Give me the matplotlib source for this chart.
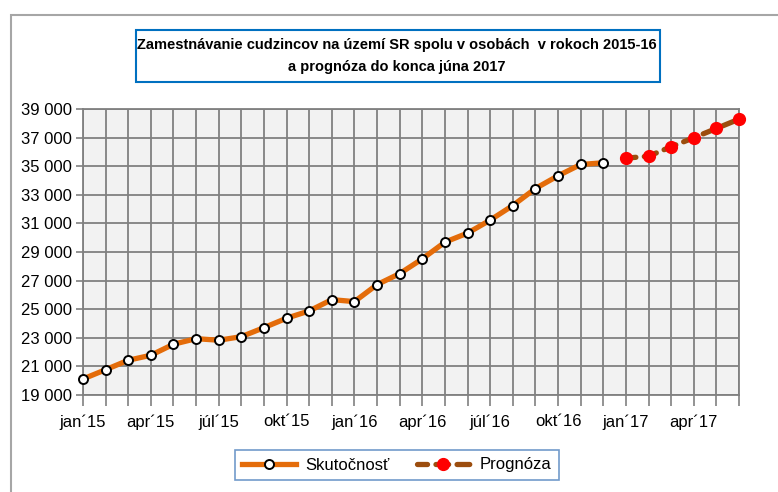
import matplotlib
matplotlib.use('Agg')
from matplotlib import pyplot as plt
from matplotlib.patches import Rectangle

# months jan'15 .. jun'17
months = ['jan´15', 'feb´15', 'mar´15', 'apr´15', 'máj´15', 'jún´15',
          'júl´15', 'aug´15', 'sep´15', 'okt´15', 'nov´15', 'dec´15',
          'jan´16', 'feb´16', 'mar´16', 'apr´16', 'máj´16', 'jún´16',
          'júl´16', 'aug´16', 'sep´16', 'okt´16', 'nov´16', 'dec´16',
          'jan´17', 'feb´17', 'mar´17', 'apr´17', 'máj´17', 'jún´17']

skutocnost = [20120, 20770, 21430, 21780, 22550, 22940,
              22830, 23080, 23710, 24370, 24880, 25670,
              25530, 26720, 27490, 28520, 29690, 30320,
              31230, 32250, 33440, 34330, 35120, 35240]

prognoza = [35560, 35700, 36360, 36990, 37640, 38290]

y_ticks = list(range(19000, 39001, 2000))
y_labels = ['{:,}'.format(v).replace(',', ' ') for v in y_ticks]

plt.rcParams['font.family'] = ['Liberation Sans', 'DejaVu Sans']

fig = plt.figure(figsize=(7.78, 4.92), dpi=100)
W, H = 778, 492

# outer chart frame
fig.patches.append(Rectangle((11 / W, -0.1), 1.0, 1 - 15 / H + 0.1, transform=fig.transFigure,
                             fill=False, edgecolor='#A6A6A6', linewidth=1.5))

ax = fig.add_axes([83 / W, (H - 395) / H, (739 - 83) / W, (395 - 109) / H])
ax.set_facecolor('#F2F2F2')

x_act = list(range(len(skutocnost)))
x_prog = list(range(len(skutocnost), len(skutocnost) + len(prognoza)))

ax.plot(x_act, skutocnost, color='#E46C0A', linewidth=3.8, marker='o', markersize=6.5,
        markerfacecolor='white', markeredgecolor='black', markeredgewidth=1.4,
        label='Skutočnosť', zorder=3, clip_on=False)
ax.plot(x_prog, prognoza, color='#9C4D0E', linewidth=3.8, linestyle=(0.5, (2.4, 1.6)),
        marker='o', markersize=8.5, markerfacecolor='#FF0000', markeredgecolor='#FF0000',
        label='Prognóza', zorder=3, clip_on=False, dash_capstyle='round')

ax.set_xlim(0, len(months) - 1)
ax.set_ylim(19000, 39000)
ax.set_xticks(range(len(months)))
ax.set_xticklabels([m if i % 3 == 0 else '' for i, m in enumerate(months)], fontsize=12)
ax.set_yticks(y_ticks)
ax.set_yticklabels(y_labels, fontsize=12)
ax.tick_params(axis='x', length=8, width=1.2, color='#808080', pad=6)
ax.tick_params(axis='y', length=5, width=1.2, color='#808080', pad=3)
ax.grid(True, color='#808080', linewidth=1.3)
ax.set_axisbelow(True)
for s in ax.spines.values():
    s.set_color('#808080')
    s.set_linewidth(1.3)

# title box
fig.patches.append(Rectangle((136 / W, 1 - 82 / H), (660 - 136) / W, (82 - 30) / H,
                             transform=fig.transFigure, facecolor='white',
                             edgecolor='#0070C0', linewidth=1.5))
fig.text((138 + 656) / 2 / W, 1 - 45 / H,
         'Zamestnávanie cudzincov na území SR spolu v osobách  v rokoch 2015-16',
         ha='center', va='center', fontsize=10.5, fontweight='bold')
fig.text((138 + 656) / 2 / W, 1 - 67 / H, 'a prognóza do konca júna 2017',
         ha='center', va='center', fontsize=10.5, fontweight='bold')

leg = fig.legend(loc='center', bbox_to_anchor=((233 + 561) / 2 / W, 1 - 465 / H), ncol=2,
                 fontsize=12, frameon=True, fancybox=False, handlelength=3.2,
                 columnspacing=1.6, borderpad=0.45, handletextpad=0.6)
leg.get_frame().set_edgecolor('#4F81BD')
leg.get_frame().set_linewidth(1.2)

fig.savefig('out.png', dpi=100)
